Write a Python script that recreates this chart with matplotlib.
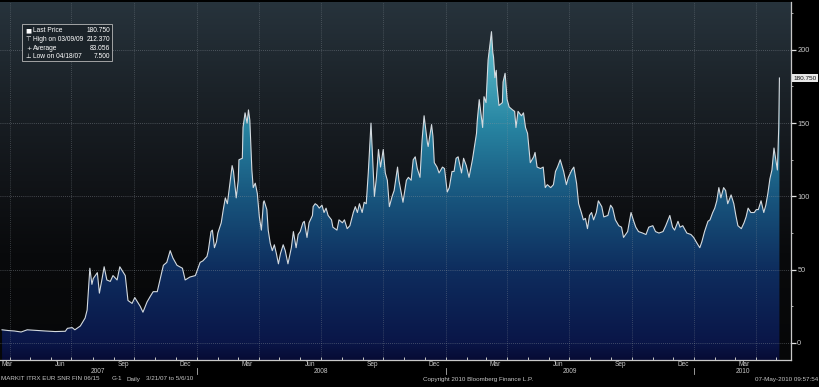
import numpy as np
import pandas as pd
import matplotlib
matplotlib.use('Agg')
import matplotlib.pyplot as plt
import matplotlib.dates as mdates
import matplotlib.transforms as mtrans
from matplotlib.colors import LinearSegmentedColormap
from matplotlib.patches import Rectangle

# MARKIT ITRX EUR SNR FIN 06/15
dates = [
    '2007-03-21', '2007-03-30', '2007-04-08', '2007-04-18', '2007-04-27', '2007-05-09', '2007-05-23',
    '2007-06-07', '2007-06-22', '2007-06-25', '2007-07-02', '2007-07-06', '2007-07-14', '2007-07-21',
    '2007-07-24', '2007-07-28', '2007-07-31', '2007-08-02', '2007-08-08', '2007-08-11', '2007-08-15',
    '2007-08-18', '2007-08-22', '2007-08-27', '2007-08-31', '2007-09-06', '2007-09-10', '2007-09-18',
    '2007-09-22', '2007-09-28', '2007-10-02', '2007-10-10', '2007-10-14', '2007-10-20', '2007-10-25',
    '2007-10-29', '2007-11-04', '2007-11-08', '2007-11-13', '2007-11-18', '2007-11-23', '2007-11-27',
    '2007-12-03', '2007-12-11', '2007-12-15', '2007-12-22', '2007-12-30',
    '2008-01-06', '2008-01-10', '2008-01-16', '2008-01-18', '2008-01-22', '2008-01-24', '2008-01-27',
    '2008-01-30', '2008-02-01', '2008-02-06', '2008-02-09', '2008-02-12', '2008-02-15', '2008-02-18',
    '2008-02-22', '2008-02-24', '2008-02-28', '2008-03-02', '2008-03-03', '2008-03-08', '2008-03-09',
    '2008-03-12', '2008-03-15', '2008-03-17', '2008-03-19', '2008-03-22', '2008-03-24', '2008-03-27',
    '2008-03-30', '2008-04-02', '2008-04-05', '2008-04-08', '2008-04-09', '2008-04-13', '2008-04-15',
    '2008-04-18', '2008-04-21', '2008-04-24', '2008-04-27', '2008-04-30', '2008-05-03', '2008-05-07',
    '2008-05-10', '2008-05-14', '2008-05-19', '2008-05-22', '2008-05-26', '2008-05-29', '2008-06-01',
    '2008-06-05', '2008-06-07', '2008-06-11', '2008-06-14', '2008-06-19', '2008-06-20', '2008-06-23',
    '2008-06-26', '2008-06-29', '2008-07-03', '2008-07-06', '2008-07-09', '2008-07-12', '2008-07-17',
    '2008-07-19', '2008-07-25', '2008-07-28', '2008-08-02', '2008-08-05', '2008-08-09', '2008-08-13',
    '2008-08-18', '2008-08-21', '2008-08-24', '2008-08-27', '2008-08-31', '2008-09-03', '2008-09-06',
    '2008-09-09', '2008-09-13', '2008-09-16', '2008-09-18', '2008-09-21', '2008-09-24', '2008-09-27',
    '2008-10-01', '2008-10-04', '2008-10-07', '2008-10-10', '2008-10-14', '2008-10-17', '2008-10-22',
    '2008-10-24', '2008-10-30', '2008-11-04', '2008-11-07', '2008-11-11', '2008-11-14', '2008-11-17',
    '2008-11-20', '2008-11-24', '2008-11-27', '2008-11-30', '2008-12-05', '2008-12-06', '2008-12-11',
    '2008-12-13', '2008-12-15', '2008-12-19', '2008-12-22', '2008-12-27', '2008-12-30',
    '2009-01-03', '2009-01-06', '2009-01-10', '2009-01-13', '2009-01-16', '2009-01-19', '2009-01-24',
    '2009-01-27', '2009-01-31', '2009-02-04', '2009-02-09', '2009-02-12', '2009-02-15', '2009-02-16',
    '2009-02-19', '2009-02-24', '2009-02-26', '2009-03-01', '2009-03-04', '2009-03-09', '2009-03-11',
    '2009-03-12', '2009-03-14', '2009-03-16', '2009-03-17', '2009-03-20', '2009-03-25', '2009-03-26',
    '2009-03-29', '2009-04-01', '2009-04-04', '2009-04-09', '2009-04-12', '2009-04-14', '2009-04-17',
    '2009-04-22', '2009-04-25', '2009-04-28', '2009-05-01', '2009-05-05', '2009-05-10', '2009-05-12',
    '2009-05-15', '2009-05-20', '2009-05-24', '2009-05-27', '2009-05-30', '2009-06-04', '2009-06-08',
    '2009-06-11', '2009-06-14', '2009-06-18', '2009-06-23', '2009-06-27', '2009-06-30', '2009-07-05',
    '2009-07-08', '2009-07-12', '2009-07-15', '2009-07-19', '2009-07-22', '2009-07-25', '2009-07-28',
    '2009-07-31', '2009-08-03', '2009-08-06', '2009-08-10', '2009-08-13', '2009-08-18', '2009-08-21',
    '2009-08-27', '2009-08-31', '2009-09-03', '2009-09-07', '2009-09-12', '2009-09-16', '2009-09-19',
    '2009-09-25', '2009-09-30', '2009-10-04', '2009-10-07', '2009-10-11', '2009-10-17', '2009-10-22',
    '2009-10-26', '2009-11-01', '2009-11-05', '2009-11-10', '2009-11-16', '2009-11-20', '2009-11-26',
    '2009-11-30', '2009-12-03', '2009-12-08', '2009-12-11', '2009-12-15', '2009-12-21', '2009-12-27',
    '2009-12-31',
    '2010-01-05', '2010-01-09', '2010-01-12', '2010-01-16', '2010-01-21', '2010-01-24', '2010-01-28',
    '2010-01-31', '2010-02-03', '2010-02-06', '2010-02-09', '2010-02-13', '2010-02-16', '2010-02-19',
    '2010-02-24', '2010-02-28', '2010-03-03', '2010-03-06', '2010-03-11', '2010-03-15', '2010-03-18',
    '2010-03-21', '2010-03-25', '2010-03-30', '2010-04-02', '2010-04-05', '2010-04-09', '2010-04-13',
    '2010-04-16', '2010-04-19', '2010-04-22', '2010-04-25', '2010-04-28', '2010-04-30', '2010-05-03',
    '2010-05-05', '2010-05-06',
]
spread = [
    9.0, 8.5, 8.2, 7.5, 9.0, 8.6, 8.2,
    7.8, 8.0, 10.0, 10.5, 9.0, 11.6, 17.0,
    22.5, 51.0, 40.0, 44.0, 48.0, 34.0, 44.0,
    52.0, 43.0, 42.0, 46.0, 43.0, 52.0, 46.0,
    29.0, 27.0, 31.0, 25.0, 21.0, 28.0, 32.0,
    35.0, 35.0, 43.0, 53.0, 55.0, 63.0, 58.0,
    53.0, 51.0, 43.0, 45.0, 46.0,
    55.0, 56.0, 59.0, 63.0, 76.0, 77.0, 65.0,
    69.0, 75.0, 82.0, 91.0, 99.0, 95.0, 106.0,
    121.0, 117.0, 99.0, 111.0, 125.0, 126.0, 147.0,
    157.0, 150.0, 159.0, 152.0, 118.0, 106.0, 109.0,
    102.0, 86.0, 77.0, 96.0, 97.0, 91.0, 77.0,
    68.0, 63.0, 67.0, 61.0, 54.0, 61.0, 67.0,
    63.0, 54.0, 65.0, 76.0, 65.0, 74.0, 76.0,
    82.0, 83.0, 72.0, 82.0, 87.0, 93.0, 95.0,
    94.0, 92.0, 94.0, 89.0, 92.0, 87.0, 84.0,
    79.0, 77.0, 84.0, 82.0, 84.0, 78.0, 80.0,
    89.0, 93.0, 89.0, 95.0, 89.0, 96.0, 95.0,
    116.0, 150.0, 120.0, 100.0, 113.0, 132.0, 120.0,
    132.0, 116.0, 111.0, 93.0, 100.0, 104.0, 120.0,
    111.0, 96.0, 111.0, 113.0, 111.0, 125.0, 127.0,
    119.0, 113.0, 138.0, 155.0, 136.0, 134.0, 149.0,
    141.0, 123.0, 120.0, 116.0, 120.0, 119.0,
    103.0, 106.0, 117.0, 117.0, 126.0, 127.0, 116.0,
    126.0, 121.0, 113.0, 125.0, 134.0, 143.0, 151.0,
    166.0, 147.0, 168.0, 164.0, 193.0, 212.37, 198.0,
    195.0, 181.0, 186.0, 176.0, 162.0, 164.0, 178.0,
    184.0, 166.0, 161.0, 159.0, 158.0, 147.0, 158.0,
    155.0, 157.0, 147.0, 143.0, 123.0, 127.0, 130.0,
    120.0, 119.0, 120.0, 106.0, 108.0, 106.0, 108.0,
    117.0, 120.0, 125.0, 117.0, 108.0, 113.0, 118.0,
    120.0, 109.0, 95.0, 89.0, 84.0, 85.0, 78.0,
    87.0, 89.0, 84.0, 89.0, 97.0, 93.0, 86.0,
    87.0, 94.0, 92.0, 84.0, 80.0, 79.0, 72.0,
    76.0, 89.0, 83.0, 79.0, 76.0, 75.0, 74.0,
    79.0, 80.0, 76.0, 75.0, 76.0, 80.0, 87.0,
    79.0, 77.0, 83.0, 79.0, 80.0, 75.0, 74.0,
    72.0,
    68.0, 65.0, 69.0, 76.0, 83.0, 84.0, 89.0,
    92.0, 97.0, 106.0, 99.0, 106.0, 104.0, 95.0,
    101.0, 95.0, 87.0, 80.0, 78.0, 82.0, 86.0,
    92.0, 89.0, 89.0, 91.0, 91.0, 97.0, 89.0,
    94.0, 102.0, 112.0, 118.0, 133.0, 127.0, 118.0,
    147.0, 180.75,
]

legend_rows = [('\u25a0', 'Last Price', '180.750'),
               ('\u22a4', 'High on 03/09/09', '212.370'),
               ('+', 'Average', '83.056'),
               ('\u22a5', 'Low on 04/18/07', '7.500')]
last_price = 180.750
y_ticks = [0, 50, 100, 150, 200]
month_names = {3: 'Mar', 6: 'Jun', 9: 'Sep', 12: 'Dec'}
years = [2007, 2008, 2009, 2010]

plt.rcParams['font.family'] = ['Liberation Sans', 'DejaVu Sans']
txt = '#c8c8c8'

fig = plt.figure(figsize=(8.2, 3.87), dpi=100, facecolor='black')
ax = fig.add_axes([0.0, 1 - 360 / 387, 791 / 820, 358 / 387])

d = pd.to_datetime(dates)
xn = mdates.date2num(d)
x0 = mdates.date2num(pd.Timestamp('2007-03-18'))
x1 = mdates.date2num(pd.Timestamp('2010-05-23'))
ymin, ymax = -11.6, 232.6

# plot background gradient
bg_cmap = LinearSegmentedColormap.from_list('bg', [
    (0.0, '#060708'), (0.30, '#090a0c'), (0.50, '#111418'),
    (0.75, '#1b2228'), (1.0, '#27333c')])
bg = np.linspace(0, 1, 256).reshape(-1, 1)
ax.imshow(bg, extent=[0, 1, 0, 1], transform=ax.transAxes, origin='lower',
          aspect='auto', cmap=bg_cmap, zorder=0)

# gradient area under the curve
def frac(v):
    return (v - ymin) / (ymax - ymin)

fill_cmap = LinearSegmentedColormap.from_list('fill', [
    (0.0, '#070c35'), (frac(0), '#0a1648'), (frac(50), '#0e2d5e'),
    (frac(100), '#18567e'), (frac(150), '#2886a3'), (frac(200), '#58b6c6'),
    (1.0, '#78ccd6')])
poly = ax.fill_between(xn, spread, ymin, facecolor='none', edgecolor='none')
grad = np.linspace(0, 1, 512).reshape(-1, 1)
im = ax.imshow(grad, extent=[x0, x1, ymin, ymax], origin='lower', aspect='auto',
               cmap=fill_cmap, zorder=1)
im.set_clip_path(poly.get_paths()[0], transform=ax.transData)

ax.plot(xn, spread, color='#d4dadf', lw=0.8, zorder=4)

# dotted grid
for v in y_ticks:
    ax.axhline(v, color='#8f979e', lw=0.6, ls=(0, (1, 1.5)), alpha=0.55, zorder=3)
quarters = pd.date_range('2007-04-01', '2010-04-01', freq='QS')
for q in quarters:
    ax.axvline(mdates.date2num(q), color='#8f979e', lw=0.6, ls=(0, (1, 1.5)),
               alpha=0.45, zorder=3)

ax.set_xlim(x0, x1)
ax.set_ylim(ymin, ymax)

for s in ['left', 'top']:
    ax.spines[s].set_visible(False)
for s in ['right', 'bottom']:
    ax.spines[s].set_color('#c8c8c8')
    ax.spines[s].set_linewidth(0.9)

ax.yaxis.tick_right()
ax.set_yticks(y_ticks)
ax.set_yticks([25, 75, 125, 175, 225], minor=True)
ax.tick_params(axis='y', which='major', colors='#e0e0e0', labelcolor=txt,
               length=3.5, width=0.9, labelsize=5.3, pad=1)
ax.tick_params(axis='y', which='minor', colors='#c8c8c8', length=1.5, width=0.6)

months = pd.date_range('2007-04-01', '2010-05-01', freq='MS')
ax.set_xticks([])
ax.set_xticks(mdates.date2num(months), minor=True)
ax.tick_params(axis='x', which='minor', direction='in', length=2, width=0.7,
               colors='#c8c8c8')

# month / year labels under the axis
tr = mtrans.blended_transform_factory(ax.transData, ax.transAxes)
for yr in years:
    for m, name in month_names.items():
        p = mdates.date2num(pd.Timestamp(yr, m, 15))
        if p > x1:
            continue
        ha = 'center'
        if p < x0:
            p, ha = x0 + 2, 'left'
        ax.text(p, -0.012, name, transform=tr, ha=ha, va='center', fontsize=4.7,
                color=txt, clip_on=False)
    a = max(mdates.date2num(pd.Timestamp(yr, 1, 1)), x0)
    b = min(mdates.date2num(pd.Timestamp(yr + 1, 1, 1)), x1)
    ax.text((a + b) / 2, -0.031, str(yr), transform=tr, ha='center', va='center',
            fontsize=4.7, color=txt, clip_on=False)
    if yr > 2007:
        ax.plot([a, a], [-0.021, -0.040], transform=tr, color='#b0b0b0', lw=0.6,
                clip_on=False)

# last price tag
tr2 = mtrans.blended_transform_factory(ax.transAxes, ax.transData)
ax.text(1.003, last_price, f'{last_price:.3f}', transform=tr2, ha='left', va='center',
        fontsize=4.6, color='#111111', clip_on=False,
        bbox=dict(boxstyle='square,pad=0.18', fc='#e8e8e8', ec='none'))

# legend box
fig.add_artist(Rectangle((22 / 820, 1 - 61 / 387), 90 / 820, 37 / 387,
                         transform=fig.transFigure, fc='#1b2329', ec='#b8b8b8',
                         lw=0.6, zorder=5))
row_y = [31, 39.5, 48, 56.5]
for (icon, label, val), yy in zip(legend_rows, row_y):
    fy = 1 - yy / 387
    fig.text(28.5 / 820, fy, icon, family='DejaVu Sans', ha='center', va='center',
             fontsize=4.6, color='white', zorder=6)
    fig.text(33 / 820, fy, label, ha='left', va='center', fontsize=4.8,
             color='white', zorder=6)
    fig.text(110 / 820, fy, val, ha='right', va='center', fontsize=4.8,
             color='white', zorder=6)

# footer
fy = 1 - 379 / 387
fig.text(1 / 820, fy, 'MARKIT ITRX EUR SNR FIN 06/15', fontsize=4.5, color=txt, va='center')
fig.text(112 / 820, fy, 'G-1', fontsize=4.5, color=txt, va='center')
fig.text(127 / 820, fy, 'Daily', fontsize=4.5, color=txt, va='center')
fig.text(146 / 820, fy, '3/21/07 to 5/6/10', fontsize=4.5, color=txt, va='center')
fig.text(423 / 820, fy, 'Copyright 2010 Bloomberg Finance L.P.', fontsize=4.5,
         color=txt, va='center')
fig.text(818 / 820, fy, '07-May-2010 09:57:54', fontsize=4.5, color=txt,
         va='center', ha='right')

fig.savefig('out.png', dpi=100, facecolor='black')
